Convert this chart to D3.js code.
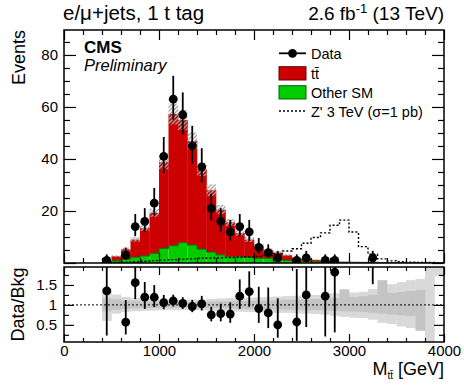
<!DOCTYPE html>
<html>
<head>
<meta charset="utf-8">
<script src="https://cdn.jsdelivr.net/npm/d3@7"></script>
<style>
  body { margin: 0; background: #fff; }
  text { font-family: "Liberation Sans", Arial, sans-serif; fill: #000; }
</style>
</head>
<body>
<div id="chart"></div>
<script>
// bins of 100 GeV, lower edges
const binLow = [400, 500, 600, 700, 800, 900, 1000, 1100, 1200, 1300, 1400, 1500,
  1600, 1700, 1800, 1900, 2000, 2100, 2200, 2300, 2400, 2500, 2600, 2700,
  2800, 2900, 3000, 3100, 3200, 3300, 3400, 3500, 3600, 3700, 3800, 3900];
const binWidth = 100;

const dataCounts = [1, 0, 3, 14, 16, 23, 41, 63, 57, 45, 37, 21,
  16, 12, 14, 12, 6, 4, 2, 0, 1, 2, 0, 1,
  1, 0, 0, 0, 2, 0, 0, 0, 0, 0, 0, 0];
const ttbar = [0.59, 1.8, 3.9, 6.8, 10.7, 15.6, 33.2, 50.7, 47.2, 40.0, 30.7, 23.8,
  17.4, 13.2, 9.1, 6.8, 4.8, 3.2, 2.6, 2.0, 0.95, 1.0, 0.7, 0.47,
  0.3, 0.3, 0.3, 0.27, 0.35, 0.2, 0.17, 0.14, 0.1, 0.08, 0.07, 0.06];
const otherSM = [0.15, 0.8, 1.4, 2.2, 2.7, 3.7, 5.6, 6.6, 7.8, 6.9, 5.3, 4.2,
  3.1, 2.4, 2.4, 2.2, 1.8, 1.8, 1.4, 1.0, 0.8, 0.6, 0.5, 0.35,
  0.25, 0.2, 0.15, 0.15, 0.12, 0.1, 0.08, 0.06, 0.05, 0.04, 0.03, 0.02];
const zprime = [0.1, 0.2, 0.3, 0.5, 0.7, 0.9, 1.1, 1.3, 1.5, 1.6, 1.8, 1.9,
  2.0, 2.1, 2.2, 2.3, 2.5, 2.9, 3.6, 4.6, 5.5, 7.6, 9.8, 11.6,
  14.5, 16.5, 11.9, 6.3, 3.4, 1.6, 0.8, 0.5, 0.35, 0.25, 0.2, 0.15];

// uncertainty bands (relative to background)
const outerLo = [0.60, 0.78, 0.82, 0.84, 0.85, 0.86, 0.87, 0.87, 0.87, 0.87, 0.87, 0.85,
  0.84, 0.83, 0.83, 0.82, 0.82, 0.81, 0.80, 0.80, 0.79, 0.78, 0.77, 0.75,
  0.72, 0.70, 0.68, 0.67, 0.63, 0.55, 0.52, 0.46, 0.42, 0.43, 0.05, 1.72];
const outerHi = [1.42, 1.26, 1.20, 1.17, 1.16, 1.15, 1.14, 1.13, 1.13, 1.13, 1.13, 1.15,
  1.16, 1.17, 1.17, 1.18, 1.19, 1.20, 1.21, 1.22, 1.23, 1.24, 1.25, 1.27,
  1.29, 1.28, 1.31, 1.33, 1.40, 1.48, 1.52, 1.57, 1.62, 1.65, 1.95, 1.95];
const innerLo = [0.84, 0.88, 0.90, 0.91, 0.92, 0.92, 0.93, 0.93, 0.93, 0.93, 0.93, 0.92,
  0.92, 0.91, 0.91, 0.90, 0.90, 0.89, 0.89, 0.88, 0.88, 0.87, 0.87, 0.86,
  0.85, 0.84, 0.83, 0.82, 0.80, 0.78, 0.76, 0.74, 0.72, 0.35, 1.0, 1.72];
const innerHi = [1.16, 1.14, 1.11, 1.10, 1.09, 1.08, 1.08, 1.07, 1.07, 1.07, 1.07, 1.08,
  1.09, 1.09, 1.10, 1.10, 1.11, 1.11, 1.12, 1.13, 1.13, 1.14, 1.15, 1.16,
  1.17, 1.39, 1.20, 1.22, 1.25, 1.62, 1.30, 1.32, 1.35, 1.38, 1.0, 1.72];

const xTicks = [0, 1000, 2000, 3000, 4000];
const yTicks = [0, 20, 40, 60, 80];
const ratioTicks = [0.5, 1, 1.5];

const width = 464, height = 387;
const left = 64, right = 444;
const mainTop = 30, mainBottom = 263, ratioTop = 267, ratioBottom = 342;
const colorTT = "#cc0000", colorOther = "#00cc00";

const svg = d3.select("#chart").append("svg")
  .attr("width", width).attr("height", height);

const x = d3.scaleLinear().domain([0, 4000]).range([left, right]);
const y = d3.scaleLinear().domain([0, 89.6]).range([mainBottom, mainTop]);
const yR = d3.scaleLinear().domain([0.07, 1.95]).range([ratioBottom, ratioTop]);

// approximate Poisson 68% intervals (Gehrels)
const poisUp = n => n + Math.sqrt(n + 0.75) + 1;
const poisDn = n => n * Math.pow(1 - 1 / (9 * n) - 1 / (3 * Math.sqrt(n)), 3);

const bins = binLow.map((lo, i) => ({
  lo: lo, hi: lo + binWidth, mid: lo + binWidth / 2,
  n: dataCounts[i], tt: ttbar[i], other: otherSM[i], zp: zprime[i],
  bkg: ttbar[i] + otherSM[i],
  oLo: outerLo[i], oHi: outerHi[i], iLo: innerLo[i], iHi: innerHi[i]
}));

const defs = svg.append("defs");
defs.append("pattern").attr("id", "hatch")
  .attr("patternUnits", "userSpaceOnUse").attr("width", 4).attr("height", 4)
  .append("path").attr("d", "M-1,1 l2,-2 M0,4 l4,-4 M3,5 l2,-2")
  .attr("stroke", "#a3a3a3").attr("stroke-width", 1.3);
defs.append("clipPath").attr("id", "clipRatio").append("rect")
  .attr("x", left).attr("y", ratioTop).attr("width", right - left).attr("height", ratioBottom - ratioTop);
defs.append("clipPath").attr("id", "clipMain").append("rect")
  .attr("x", left).attr("y", mainTop).attr("width", right - left).attr("height", mainBottom - mainTop);

// ---------- main panel ----------
const main = svg.append("g").attr("clip-path", "url(#clipMain)");

main.selectAll(".other").data(bins).join("rect")
  .attr("x", d => x(d.lo)).attr("width", d => x(d.hi) - x(d.lo))
  .attr("y", d => y(d.other)).attr("height", d => y(0) - y(d.other))
  .attr("fill", colorOther);

main.selectAll(".tt").data(bins).join("rect")
  .attr("x", d => x(d.lo)).attr("width", d => x(d.hi) - x(d.lo) + 0.3)
  .attr("y", d => y(d.bkg)).attr("height", d => y(d.other) - y(d.bkg))
  .attr("fill", colorTT);

const stepPts = (key) => bins.map(d => [d.lo, d[key]]).concat([[bins[bins.length - 1].hi, bins[bins.length - 1][key]]]);
const stepLine = d3.line().x(d => x(d[0])).y(d => y(d[1])).curve(d3.curveStepAfter);

main.append("path").datum(stepPts("other"))
  .attr("d", stepLine).attr("fill", "none").attr("stroke", "#007a00").attr("stroke-width", 1);

main.selectAll(".unc").data(bins).join("rect")
  .attr("x", d => x(d.lo)).attr("width", d => x(d.hi) - x(d.lo))
  .attr("y", d => y(d.bkg * d.iHi)).attr("height", d => y(d.bkg * d.iLo) - y(d.bkg * d.iHi))
  .attr("fill", "url(#hatch)");

main.append("path").datum(stepPts("zp"))
  .attr("d", stepLine).attr("fill", "none").attr("stroke", "#000")
  .attr("stroke-width", 1.4).attr("stroke-dasharray", "2,2");

const withData = bins.filter(d => d.n > 0);
main.selectAll(".err").data(withData).join("line")
  .attr("x1", d => x(d.mid)).attr("x2", d => x(d.mid))
  .attr("y1", d => y(poisUp(d.n))).attr("y2", d => y(poisDn(d.n)))
  .attr("stroke", "#000").attr("stroke-width", 1.8);
main.selectAll(".pt").data(withData).join("circle")
  .attr("cx", d => x(d.mid)).attr("cy", d => y(d.n)).attr("r", 4.4).attr("fill", "#000");

// ---------- ratio panel ----------
const ratio = svg.append("g").attr("clip-path", "url(#clipRatio)");

ratio.selectAll(".outer").data(bins).join("rect")
  .attr("x", d => x(d.lo)).attr("width", d => x(d.hi) - x(d.lo) + 0.3)
  .attr("y", d => yR(d.oHi)).attr("height", d => yR(d.oLo) - yR(d.oHi))
  .attr("fill", "#d9d9d9");
ratio.selectAll(".inner").data(bins).join("rect")
  .attr("x", d => x(d.lo)).attr("width", d => x(d.hi) - x(d.lo) + 0.3)
  .attr("y", d => yR(d.iHi)).attr("height", d => yR(d.iLo) - yR(d.iHi))
  .attr("fill", "#c4c4c4");

ratio.append("line")
  .attr("x1", x(0)).attr("x2", x(4000)).attr("y1", yR(1)).attr("y2", yR(1))
  .attr("stroke", "#000").attr("stroke-width", 1).attr("stroke-dasharray", "2,2");

ratio.selectAll(".rerr").data(withData).join("line")
  .attr("x1", d => x(d.mid)).attr("x2", d => x(d.mid))
  .attr("y1", d => yR(poisUp(d.n) / d.bkg)).attr("y2", d => yR(poisDn(d.n) / d.bkg))
  .attr("stroke", "#000").attr("stroke-width", 1.8);
ratio.selectAll(".rpt").data(withData).join("circle")
  .attr("cx", d => x(d.mid)).attr("cy", d => yR(d.n / d.bkg)).attr("r", 4.4).attr("fill", "#000");

// ---------- frames & axes ----------
[[mainTop, mainBottom], [ratioTop, ratioBottom]].forEach(([t, b]) => {
  svg.append("rect").attr("x", left).attr("y", t).attr("width", right - left).attr("height", b - t)
    .attr("fill", "none").attr("stroke", "#000").attr("stroke-width", 1.5);
});

const xMinor = d3.range(0, 4001, 200).filter(v => v % 1000 !== 0);

function styleAxis(g) {
  g.select(".domain").remove();
  g.selectAll(".tick line").attr("stroke", "#000").attr("stroke-width", 1.2);
  g.selectAll(".tick text").attr("font-size", 15).attr("font-family", "Liberation Sans, Arial, sans-serif");
}

function xAxes(yTop, yBot, major, minor, labels) {
  svg.append("g").attr("transform", `translate(0,${yTop})`)
    .call(d3.axisTop(x).tickValues(xTicks).tickSize(-major).tickFormat("")).call(styleAxis);
  svg.append("g").attr("transform", `translate(0,${yTop})`)
    .call(d3.axisTop(x).tickValues(xMinor).tickSize(-minor).tickFormat("")).call(styleAxis);
  svg.append("g").attr("transform", `translate(0,${yBot})`)
    .call(d3.axisBottom(x).tickValues(xTicks).tickSize(-major).tickPadding(3)
      .tickFormat(labels ? d => d : "")).call(styleAxis);
  svg.append("g").attr("transform", `translate(0,${yBot})`)
    .call(d3.axisBottom(x).tickValues(xMinor).tickSize(-minor).tickFormat("")).call(styleAxis);
}
xAxes(mainTop, mainBottom, 10, 5, false);
xAxes(ratioTop, ratioBottom, 8, 4, true);

const yMinor = d3.range(0, 90, 5).filter(v => v % 20 !== 0);
svg.append("g").attr("transform", `translate(${left},0)`)
  .call(d3.axisLeft(y).tickValues(yTicks).tickSize(-12).tickPadding(6)
    .tickFormat(d => d === 0 ? "" : d)).call(styleAxis);
svg.append("g").attr("transform", `translate(${left},0)`)
  .call(d3.axisLeft(y).tickValues(yMinor).tickSize(-6).tickFormat("")).call(styleAxis);
svg.append("g").attr("transform", `translate(${right},0)`)
  .call(d3.axisRight(y).tickValues(yTicks).tickSize(-12).tickFormat("")).call(styleAxis);
svg.append("g").attr("transform", `translate(${right},0)`)
  .call(d3.axisRight(y).tickValues(yMinor).tickSize(-6).tickFormat("")).call(styleAxis);

const rMinor = [0.25, 0.75, 1.25, 1.75];
svg.append("g").attr("transform", `translate(${left},0)`)
  .call(d3.axisLeft(yR).tickValues(ratioTicks).tickSize(-10).tickPadding(7).tickFormat(d => d)).call(styleAxis);
svg.append("g").attr("transform", `translate(${left},0)`)
  .call(d3.axisLeft(yR).tickValues(rMinor).tickSize(-5).tickFormat("")).call(styleAxis);
svg.append("g").attr("transform", `translate(${right},0)`)
  .call(d3.axisRight(yR).tickValues(ratioTicks).tickSize(-10).tickFormat("")).call(styleAxis);
svg.append("g").attr("transform", `translate(${right},0)`)
  .call(d3.axisRight(yR).tickValues(rMinor).tickSize(-5).tickFormat("")).call(styleAxis);

// ---------- titles ----------
svg.append("text").attr("transform", "translate(25,30) rotate(-90)")
  .attr("text-anchor", "end").attr("font-size", 18).text("Events");
svg.append("text").attr("transform", `translate(23.5,${(ratioTop + ratioBottom) / 2}) rotate(-90)`)
  .attr("text-anchor", "middle").attr("font-size", 18).text("Data/Bkg");

const xt = svg.append("text").attr("x", right).attr("y", 375)
  .attr("text-anchor", "end").attr("font-size", 18);
xt.append("tspan").text("M");
xt.append("tspan").attr("font-size", 10).attr("dy", 4).text("tt\u0304");
xt.append("tspan").attr("dy", -4).text(" [GeV]");

svg.append("text").attr("x", 63).attr("y", 20).attr("font-size", 20.5).text("e/\u03bc+jets, 1 t tag");
const lumi = svg.append("text").attr("x", right).attr("y", 20).attr("text-anchor", "end").attr("font-size", 19);
lumi.append("tspan").text("2.6 fb");
lumi.append("tspan").attr("font-size", 13).attr("dy", -7).text("-1");
lumi.append("tspan").attr("dy", 7).text(" (13 TeV)");

svg.append("text").attr("x", 84).attr("y", 53.3).attr("font-size", 17).attr("font-weight", "bold").text("CMS");
svg.append("text").attr("x", 84).attr("y", 71).attr("font-size", 16.5).attr("font-style", "italic").text("Preliminary");

// ---------- legend ----------
const lg = svg.append("g");
const lx = 279, lw = 27, tx = 311, fs = 14.5;
lg.append("line").attr("x1", lx).attr("x2", lx + lw).attr("y1", 53.3).attr("y2", 53.3)
  .attr("stroke", "#000").attr("stroke-width", 1.8);
lg.append("circle").attr("cx", lx + lw / 2).attr("cy", 53.3).attr("r", 4.4).attr("fill", "#000");
lg.append("text").attr("x", tx).attr("y", 58.5).attr("font-size", fs).text("Data");
lg.append("rect").attr("x", lx).attr("y", 66.7).attr("width", lw).attr("height", 13.3)
  .attr("fill", colorTT).attr("stroke", "#6b0000").attr("stroke-width", 1);
lg.append("text").attr("x", tx).attr("y", 78.5).attr("font-size", fs).text("tt\u0304");
lg.append("rect").attr("x", lx).attr("y", 85.7).attr("width", lw).attr("height", 13.3)
  .attr("fill", colorOther).attr("stroke", "#006600").attr("stroke-width", 1);
lg.append("text").attr("x", tx).attr("y", 97.5).attr("font-size", fs).text("Other SM");
lg.append("line").attr("x1", lx).attr("x2", lx + lw).attr("y1", 111).attr("y2", 111)
  .attr("stroke", "#000").attr("stroke-width", 1.4).attr("stroke-dasharray", "2,2");
lg.append("text").attr("x", tx).attr("y", 116.5).attr("font-size", fs).text("Z' 3 TeV (\u03c3=1 pb)");
</script>
</body>
</html>
